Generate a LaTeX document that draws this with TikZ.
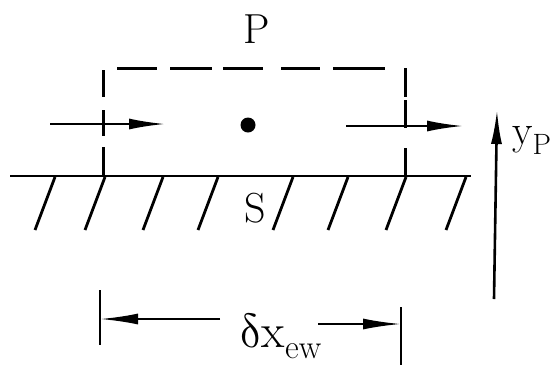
\documentclass[tikz,border=0pt]{standalone}
\usepackage{unicode-math}
\setmathfont{Latin Modern Math}
\usetikzlibrary{arrows.meta}
\begin{document}
\begin{tikzpicture}[x=1pt,y=-1pt,
  thickline/.style={line width=2.8pt},
  dashseg/.style={line width=3pt},
  hatchline/.style={line width=2.8pt},
  flowarrow/.style={line width=2.2pt,-{Latex[length=36pt,width=11pt]}},
  dimarrow/.style={line width=2.2pt,-{Latex[length=38pt,width=11pt]}},
  label/.style={inner sep=0pt,font=\fontsize{42}{42}\selectfont},
  biglabel/.style={inner sep=0pt,font=\fontsize{48}{48}\selectfont}]
\useasboundingbox (0,0) rectangle (556,365);
\fill[white] (0,0) rectangle (556,365);

% dashed control volume (top)
\foreach \a/\b in {117/157,170/212,223/263,281/320,333/385}
  \draw[dashseg] (\a,68) -- (\b,68);
% left side
\foreach \a/\b in {70/97,110/136,147/176}
  \draw[dashseg] (103,\a) -- (103,\b);
% right side
\foreach \a/\b in {68/97,100/128,148/176}
  \draw[dashseg] (405,\a) -- (405,\b);

% ground
\coordinate (g1) at (10,176);
\coordinate (g2) at (471,176);
\draw[thickline] (g1) -- (g2);
\foreach \xb in {35,85,143,198,273,328,386,446}
  \draw[hatchline] (\xb+20,177) -- (\xb,230);

% flow arrows
\coordinate (wl) at (50,124);
\coordinate (wr) at (165,124);
\coordinate (el) at (346,126);
\coordinate (er) at (463,126);
\draw[flowarrow] (wl) -- (wr);
\draw[flowarrow] (el) -- (er);

% node point
\fill (248,125) circle (7.5pt);

% labels
\node[label,anchor=base] (P) at (257,43) {P};
\node[label,anchor=base] (S) at (255,222) {S};
\node[label,anchor=base west] (yp) at (512,144) {$\mathrm{y}_{\mathrm{P}}$};
\node[biglabel,anchor=base west] (dx) at (239,347) {$\symup{\delta}\mathrm{x}_{\mathrm{ew}}$};

% y_P arrow
\coordinate (yb) at (494,299);
\coordinate (yt) at (497,110);
\draw[line width=2.6pt,-{Latex[length=34pt,width=11pt]}] (yb) -- (yt);

% dimension
\coordinate (t1a) at (100,290);
\coordinate (t1b) at (100,345);
\coordinate (t2a) at (401,307);
\coordinate (t2b) at (401,365);
\draw[thickline] (t1a) -- (t1b);
\draw[thickline] (t2a) -- (t2b);
\coordinate (dl) at (220,319);
\coordinate (dr) at (318,324);
\draw[dimarrow] (dl) -- (100,319);
\draw[dimarrow] (dr) -- (401,324);
\end{tikzpicture}
\end{document}
